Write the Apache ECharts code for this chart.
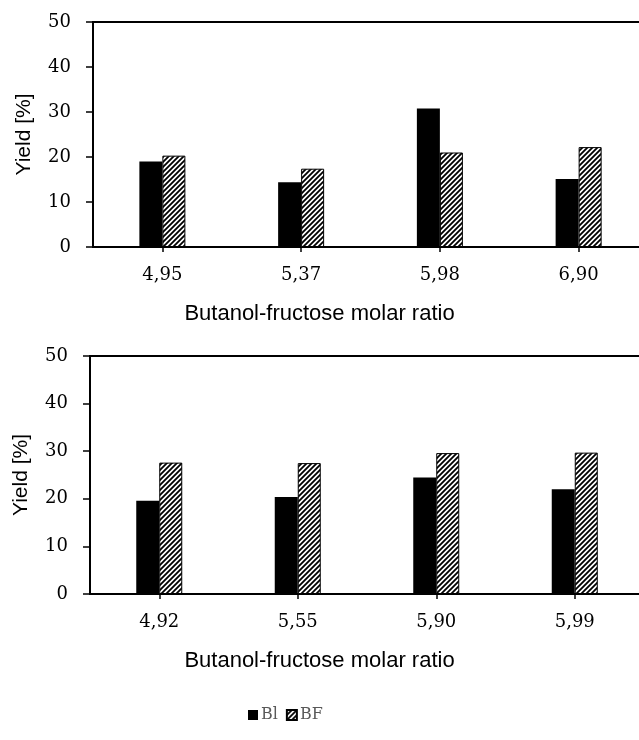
<!DOCTYPE html>
<html>
<head>
<meta charset="utf-8">
<script src="https://cdn.jsdelivr.net/npm/echarts@6/dist/echarts.min.js"></script>
<style>html,body{margin:0;padding:0;background:#fff}#c{width:639px;height:740px}</style>
</head>
<body>
<div id="c"></div>
<script>
var categoriesTop = ['4,95', '5,37', '5,98', '6,90'];
var blTop = [19.0, 14.4, 30.8, 15.1];
var bfTop = [20.3, 17.4, 21.0, 22.2];
var categoriesBottom = ['4,92', '5,55', '5,90', '5,99'];
var blBottom = [19.6, 20.4, 24.5, 22.0];
var bfBottom = [27.6, 27.5, 29.6, 29.7];
var yTicks = [0, 10, 20, 30, 40, 50];
var seriesNames = ['Bl', 'BF'];
var xTitle = 'Butanol-fructose molar ratio';
var yTitle = 'Yield [%]';

function hatch() {
  var c = document.createElement('canvas');
  c.width = 5; c.height = 5;
  var g = c.getContext('2d');
  g.fillStyle = '#fff'; g.fillRect(0, 0, 5, 5);
  g.strokeStyle = '#000'; g.lineWidth = 1.8;
  g.beginPath();
  g.moveTo(-1, 6); g.lineTo(6, -1);
  g.moveTo(-1, 1); g.lineTo(1, -1);
  g.moveTo(4, 6); g.lineTo(6, 4);
  g.stroke();
  return c;
}
var hatchPattern = { image: hatch(), repeat: 'repeat' };

var serif = 'DejaVu Serif';
var sans = 'Liberation Sans';

function xAxisOpt(gi, cats) {
  return {
    type: 'category', gridIndex: gi, data: cats,
    axisLine: { show: true, lineStyle: { color: '#000', width: 2 } },
    axisTick: { show: true, alignWithLabel: true, length: 5, lineStyle: { color: '#000', width: 1.5 } },
    axisLabel: { fontFamily: serif, fontSize: 18, color: '#000', margin: 19 }
  };
}
function yAxisOpt(gi) {
  return {
    type: 'value', gridIndex: gi, min: yTicks[0], max: yTicks[yTicks.length - 1], interval: 10,
    name: yTitle, nameLocation: 'middle', nameGap: 58, nameRotate: 90,
    nameTextStyle: { fontFamily: sans, fontSize: 21, color: '#000' },
    axisLine: { show: true, lineStyle: { color: '#000', width: 2 } },
    axisTick: { show: true, length: 7, lineStyle: { color: '#000', width: 1.5 } },
    axisLabel: { fontFamily: serif, fontSize: 18, color: '#000', margin: 22 },
    splitLine: { show: false }
  };
}
function barSeries(name, gi, data, isHatch) {
  return {
    name: name, type: 'bar', xAxisIndex: gi, yAxisIndex: gi, data: data,
    barWidth: 23, barGap: '0%',
    itemStyle: isHatch ? { color: hatchPattern, borderColor: '#000', borderWidth: 1 } : { color: '#000' },
    emphasis: { disabled: true }
  };
}

var chart = echarts.init(document.getElementById('c'), null, { renderer: 'canvas' });
chart.setOption({
  animation: false,
  backgroundColor: '#fff',
  title: [
    { text: xTitle, left: 'center', top: 298, textStyle: { fontFamily: sans, fontSize: 22, fontWeight: 'normal', color: '#000' } },
    { text: xTitle, left: 'center', top: 645, textStyle: { fontFamily: sans, fontSize: 22, fontWeight: 'normal', color: '#000' } }
  ],
  legend: {
    data: seriesNames, left: 243, top: 702, itemWidth: 10, itemHeight: 10, itemGap: 8,
    icon: 'rect',
    textStyle: { fontFamily: serif, fontSize: 16, color: '#595959', padding: [0, 0, 0, -2] }
  },
  grid: [
    { left: 93, top: 22, width: 555, height: 225, show: true, borderColor: '#000', borderWidth: 2, outerBoundsMode: 'none', containLabel: false },
    { left: 90, top: 356, width: 554, height: 238, show: true, borderColor: '#000', borderWidth: 2, outerBoundsMode: 'none', containLabel: false }
  ],
  xAxis: [xAxisOpt(0, categoriesTop), xAxisOpt(1, categoriesBottom)],
  yAxis: [yAxisOpt(0), yAxisOpt(1)],
  series: [
    barSeries(seriesNames[0], 0, blTop, false),
    barSeries(seriesNames[1], 0, bfTop, true),
    barSeries(seriesNames[0], 1, blBottom, false),
    barSeries(seriesNames[1], 1, bfBottom, true)
  ]
});
</script>
</body>
</html>
